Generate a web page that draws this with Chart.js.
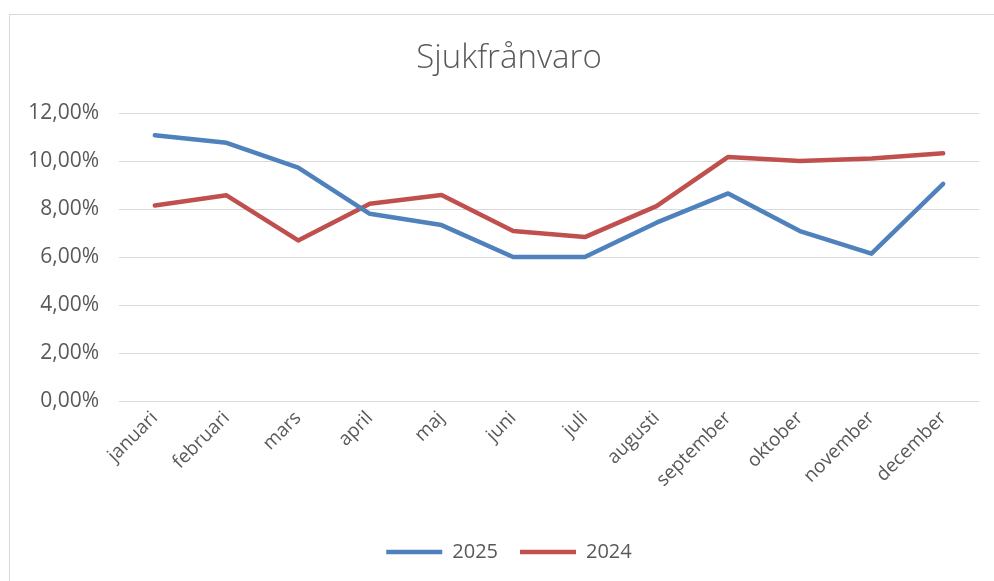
<!DOCTYPE html>
<html>
<head>
<meta charset="utf-8">
<script src="https://cdn.jsdelivr.net/npm/chart.js@4/dist/chart.umd.min.js"></script>
<style>
  html, body { margin: 0; padding: 0; background: #fff; width: 994px; height: 581px; overflow: hidden; }
  #frame { position: absolute; left: 9px; top: 14px; width: 998px; height: 590px; border: 1px solid #d9d9d9; box-sizing: border-box; }
  #wrap { position: absolute; left: 1px; top: 1px; width: 996px; height: 575px; }
</style>
</head>
<body>
<div id="frame"><div id="wrap"><canvas id="c"></canvas></div></div>
<script>
const title = "Sjukfrånvaro";
const months = ["januari","februari","mars","april","maj","juni","juli","augusti","september","oktober","november","december"];
const seriesNames = ["2025","2024"];
const values2025 = [11.07, 10.76, 9.72, 7.80, 7.33, 6.00, 6.00, 7.43, 8.65, 7.08, 6.14, 9.05];
const values2024 = [8.15, 8.57, 6.69, 8.22, 8.58, 7.08, 6.83, 8.12, 10.17, 10.00, 10.10, 10.32];
const yTicks = [0, 2, 4, 6, 8, 10, 12];

const textColor = "#595959";
const fontFamily = "'Open Sans', 'Noto Sans', sans-serif";

new Chart(document.getElementById('c'), {
  type: 'line',
  data: {
    labels: months,
    datasets: [
      { label: seriesNames[0], data: values2025, borderColor: '#4F81BD', backgroundColor: '#4F81BD',
        borderWidth: 4.5, pointRadius: 0, tension: 0, borderJoinStyle: 'round', borderCapStyle: 'round' },
      { label: seriesNames[1], data: values2024, borderColor: '#C0504D', backgroundColor: '#C0504D',
        borderWidth: 4.5, pointRadius: 0, tension: 0, borderJoinStyle: 'round', borderCapStyle: 'round' }
    ]
  },
  options: {
    responsive: true,
    maintainAspectRatio: false,
    animation: false,
    layout: { padding: { left: 0, right: 0, top: 0, bottom: 19 } },
    plugins: {
      title: {
        display: true, text: title, color: textColor,
        font: { family: fontFamily, size: 33, weight: 300, lineHeight: 1.2 },
        padding: { top: 23, bottom: 34.4 }
      },
      legend: {
        position: 'bottom',
        labels: {
          usePointStyle: true, pointStyle: 'line', pointStyleWidth: 56,
          color: textColor, padding: 22,
          font: { family: fontFamily, size: 20 }
        }
      },
      tooltip: { enabled: false }
    },
    scales: {
      x: {
        offset: true,
        grid: { display: false, drawTicks: false },
        border: { display: false },
        afterFit: (s) => { s.height = 119; },
        ticks: {
          color: textColor, autoSkip: false, minRotation: 45, maxRotation: 45, padding: 6,
          font: { family: fontFamily, size: 19 }
        }
      },
      y: {
        min: 0, max: 12,
        afterBuildTicks: (s) => { s.ticks = yTicks.map(v => ({ value: v })); },
        afterFit: (s) => { s.width = 108; },
        grid: { color: '#d9d9d9', lineWidth: 1, drawTicks: false },
        border: { display: false },
        ticks: {
          color: textColor, padding: 20,
          font: { family: fontFamily, size: 21 },
          callback: (v) => v.toFixed(2).replace('.', ',') + '%'
        }
      },
      yRight: {
        position: 'right', min: 0, max: 12,
        grid: { display: false, drawTicks: false },
        border: { display: false },
        ticks: { display: false },
        afterFit: (s) => { s.width = 28; }
      }
    }
  }
});
</script>
</body>
</html>
